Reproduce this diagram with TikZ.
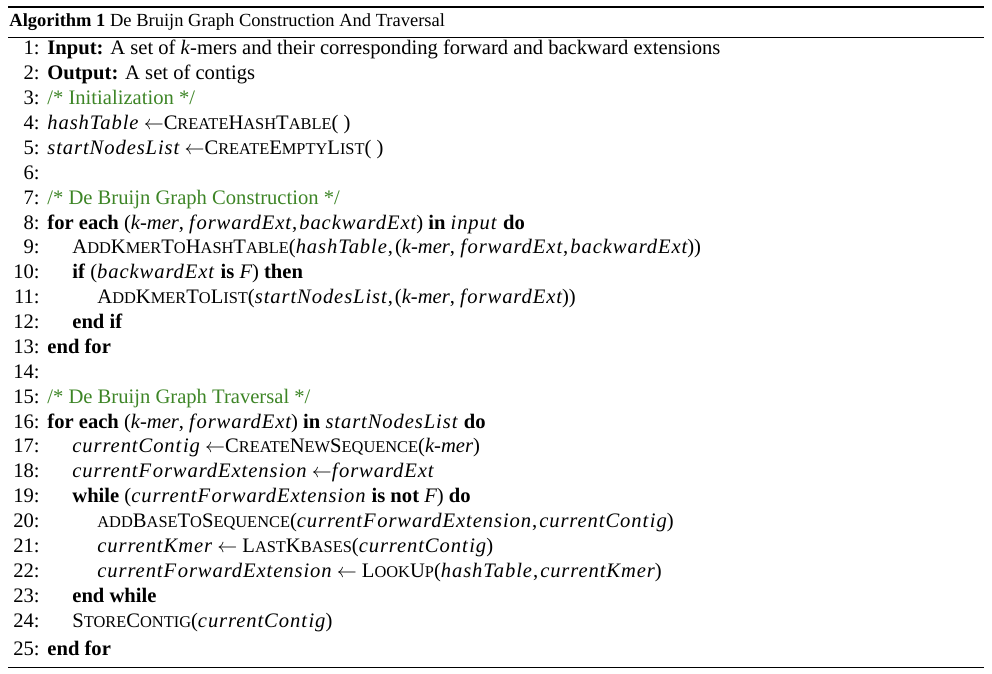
\documentclass[tikz,border=0pt]{standalone}
\usepackage{fontspec}
\setmainfont{Liberation Serif}
\newfontface\mathword{Liberation Serif Italic}[LetterSpace=4.4]
\usepackage{tikz}
\usetikzlibrary{positioning}

\definecolor{commentgreen}{RGB}{61,133,38}
\newcommand\sm[1]{{\fontsize{8.2}{9}\selectfont\MakeUppercase{#1}}}
\newcommand\va[1]{{\mathword #1}}

\tikzset{
  num/.style={anchor=base east, inner sep=0pt},
  txt/.style={anchor=base west, inner sep=0pt},
  comment/.style={txt, text=commentgreen}
}

\begin{document}
\begin{tikzpicture}[x=0.5pt, y=-0.5pt, font=\fontsize{10.3}{12}\selectfont]

\useasboundingbox (0,0) rectangle (992,674);

\draw[line width=0.9pt] (8,7) -- (984,7);
\node[txt, font=\fontsize{9.25}{11}\selectfont] (caption) at (9,27) {\textbf{Algorithm 1} De Bruijn Graph Construction And Traversal};
\draw[line width=0.5pt] (8,37.5) -- (984,37.5);

% lines 1 to 7
\node[num] (n1) at (40,55) {1:};
\node[txt] (l1) at (47,55) {\textbf{Input:} A set of \textit{k}-mers and their corresponding forward and backward extensions};
\node[num] (n2) at (40,79.9) {2:};
\node[txt] (l2) at (47,79.9) {\textbf{Output:} A set of contigs};
\node[num] (n3) at (40,104.7) {3:};
\node[comment] (l3) at (47,104.7) {/* Initialization */};
\node[num] (n4) at (40,129.6) {4:};
\node[txt] (l4) at (47,129.6) {\va{hashTable} $\leftarrow$C\sm{reate}H\sm{ash}T\sm{able}( )};
\node[num] (n5) at (40,154.5) {5:};
\node[txt] (l5) at (47,154.5) {\va{startNodesList} $\leftarrow$C\sm{reate}E\sm{mpty}L\sm{ist}( )};
\node[num] (n6) at (40,179.4) {6:};
\node[num] (n7) at (40,204.2) {7:};
\node[comment] (l7) at (47,204.2) {/* De Bruijn Graph Construction */};

% construction loop
\node[num] (n8) at (40,229.1) {8:};
\node[txt] (l8) at (47,229.1) {\textbf{for each} (\textit{k-mer}, \va{f\kern0.8pt orwardExt}\kern0.5pt,\kern1pt\va{backwardExt}) \textbf{in} \va{input} \textbf{do}};
\node[num] (n9) at (40,254) {9:};
\node[txt] (l9) at (72,254) {A\sm{dd}K\sm{mer}T\sm{o}H\sm{ash}T\sm{able}(\va{hashTable}\kern0.5pt,\kern1pt(\textit{k-mer}, \va{f\kern0.8pt orwardExt}\kern0.5pt,\kern1pt\va{backwardExt}))};
\node[num] (n10) at (40,278.8) {10:};
\node[txt] (l10) at (72,278.8) {\textbf{if} (\va{backwardExt} \textbf{is} \va{F}) \textbf{then}};
\node[num] (n11) at (40,303.7) {11:};
\node[txt] (l11) at (97,303.7) {A\sm{dd}K\sm{mer}T\sm{o}L\sm{ist}(\va{startNodesList}\kern0.5pt,\kern1pt(\textit{k-mer}, \va{f\kern0.8pt orwardExt}))};
\node[num] (n12) at (40,328.6) {12:};
\node[txt] (l12) at (72,328.6) {\textbf{end if}};
\node[num] (n13) at (40,353.4) {13:};
\node[txt] (l13) at (47,353.4) {\textbf{end for}};
\node[num] (n14) at (40,378.3) {14:};
\node[num] (n15) at (40,403.2) {15:};
\node[comment] (l15) at (47,403.2) {/* De Bruijn Graph Traversal */};

% traversal loop
\node[num] (n16) at (40,428) {16:};
\node[txt] (l16) at (47,428) {\textbf{for each} (\textit{k-mer}, \va{f\kern0.8pt orwardExt}) \textbf{in} \va{startNodesList} \textbf{do}};
\node[num] (n17) at (40,452.9) {17:};
\node[txt] (l17) at (72,452.9) {\va{currentCont\kern0.8pt ig} $\leftarrow$C\sm{reate}N\sm{ew}S\sm{equence}(\textit{k-mer})};
\node[num] (n18) at (40,477.8) {18:};
\node[txt] (l18) at (72,477.8) {\va{currentF\kern0.8pt orwardExtension} $\leftarrow$\va{f\kern0.8pt orwardExt}};
\node[num] (n19) at (40,502.6) {19:};
\node[txt] (l19) at (72,502.6) {\textbf{while} (\va{currentF\kern0.8pt orwardExtension} \textbf{is not} \va{F}) \textbf{do}};
\node[num] (n20) at (40,527.5) {20:};
\node[txt] (l20) at (97,527.5) {\sm{add}B\sm{ase}T\sm{o}S\sm{equence}(\va{currentF\kern0.8pt orwardExtension}\kern0.5pt,\kern1pt\va{currentCont\kern0.8pt ig})};
\node[num] (n21) at (40,552.4) {21:};
\node[txt] (l21) at (97,552.4) {\va{currentKmer} $\leftarrow$ L\sm{ast}K\sm{bases}(\va{currentCont\kern0.8pt ig})};
\node[num] (n22) at (40,577.2) {22:};
\node[txt] (l22) at (97,577.2) {\va{currentF\kern0.8pt orwardExtension} $\leftarrow$ L\sm{ook}U\sm{p}(\va{hashTable}\kern0.5pt,\kern1pt\va{currentKmer})};
\node[num] (n23) at (40,602.1) {23:};
\node[txt] (l23) at (72,602.1) {\textbf{end while}};
\node[num] (n24) at (40,627) {24:};
\node[txt] (l24) at (72,627) {S\sm{tore}C\sm{ontig}(\va{currentCont\kern0.8pt ig})};
\node[num] (n25) at (40,655) {25:};
\node[txt] (l25) at (47,655) {\textbf{end for}};

\draw[line width=0.5pt] (8,667) -- (984,667);

\end{tikzpicture}
\end{document}
